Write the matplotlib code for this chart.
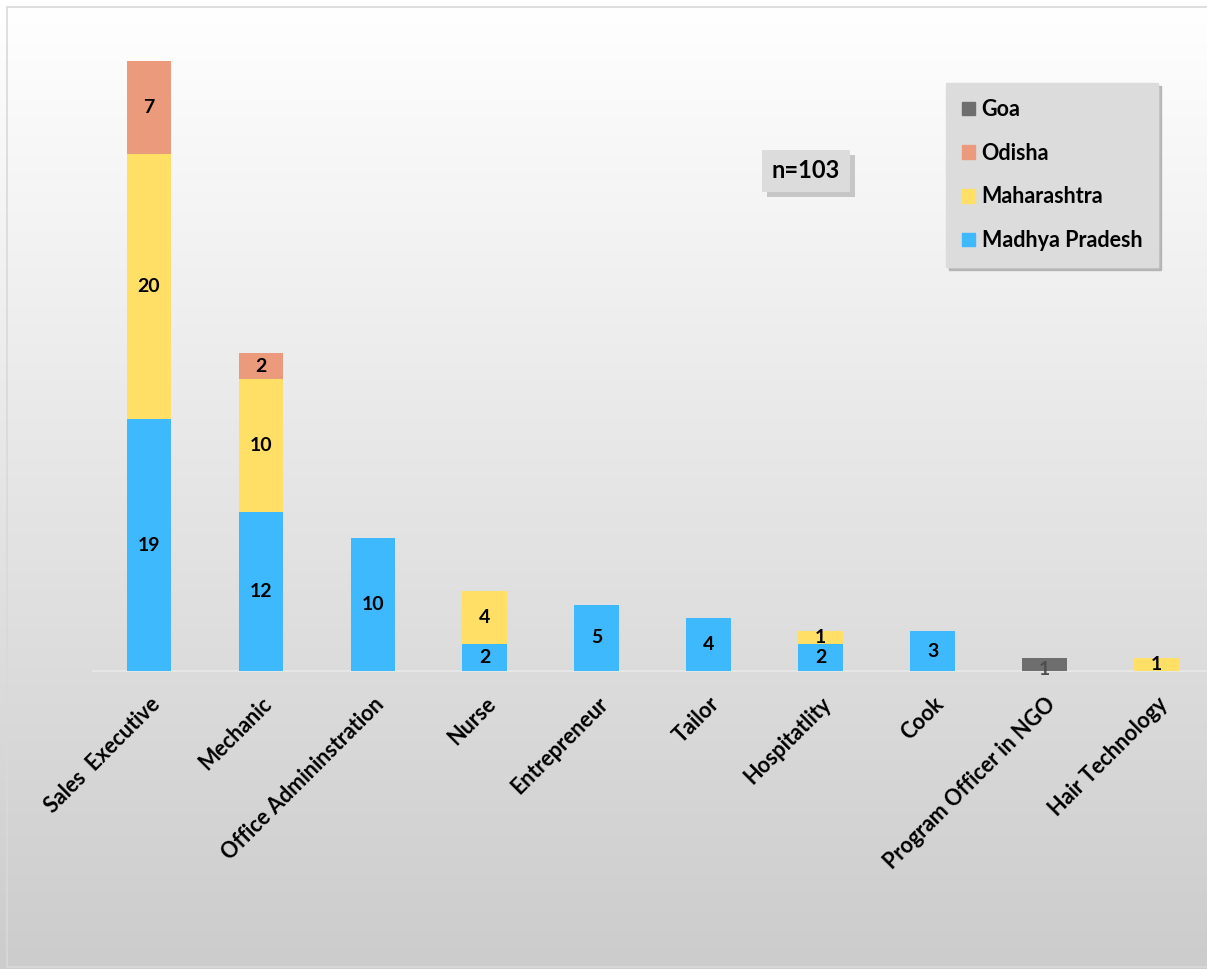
import numpy as np
import matplotlib.pyplot as plt
from matplotlib.patches import Rectangle, Patch

categories = ["Sales  Executive", "Mechanic", "Office Admininstration", "Nurse",
              "Entrepreneur", "Tailor", "Hospitatlity", "Cook",
              "Program Officer in NGO", "Hair Technology"]
madhya = [19, 12, 10, 2, 5, 4, 2, 3, 0, 0]
maharashtra = [20, 10, 0, 4, 0, 0, 1, 0, 0, 1]
odisha = [7, 2, 0, 0, 0, 0, 0, 0, 0, 0]
goa = [0, 0, 0, 0, 0, 0, 0, 0, 1, 0]

c_mp = "#3fb9fd"
c_mh = "#ffdf66"
c_od = "#ec9a7c"
c_goa = "#6e6e6e"

plt.rcParams["font.family"] = ["Lato", "DejaVu Sans"]
plt.rcParams["font.weight"] = "bold"

W, H = 1207, 969
fig = plt.figure(figsize=(W / 100, H / 100), dpi=100)

# gradient background
bg = fig.add_axes([0, 0, 1, 1], zorder=-10)
grad = np.linspace(0, 1, 256).reshape(-1, 1)
shade = 1.0 - 0.2 * grad
img = np.dstack([shade, shade, shade])
bg.imshow(img, aspect="auto", extent=[0, 1, 0, 1], origin="upper")
bg.add_patch(Rectangle((7 / W, 2 / H), 1.0, 1 - 9 / H, fill=False,
                       ec="#d9d9d9", lw=1.2, transform=bg.transAxes))
bg.set_xlim(0, 1)
bg.set_ylim(0, 1)
bg.axis("off")

x = np.arange(len(categories))
base_px = 671
ppu = 13.26
ymax = 48
ax_bottom = (H - base_px) / H
ax_height = ymax * ppu / H
left_px = 93
ax = fig.add_axes([left_px / W, ax_bottom, (W - left_px) / W, ax_height])
ax.patch.set_alpha(0)

mp = np.array(madhya)
mh = np.array(maharashtra)
od = np.array(odisha)
ga = np.array(goa)
bw = 0.4
ax.bar(x, mp, bw, color=c_mp, label="Madhya Pradesh", zorder=3)
ax.bar(x, mh, bw, bottom=mp, color=c_mh, label="Maharashtra", zorder=3)
ax.bar(x, od, bw, bottom=mp + mh, color=c_od, label="Odisha", zorder=3)
ax.bar(x, ga, bw, bottom=mp + mh + od, color=c_goa, label="Goa", zorder=3)

def labels(vals, bottoms, color="black", dy=0.0):
    for xi, v, b in zip(x, vals, bottoms):
        if v > 0:
            ax.text(xi, b + v / 2 + dy, str(v), ha="center", va="center",
                    fontsize=14, fontweight="bold", color=color, zorder=5)

labels(mp, np.zeros(len(x)))
labels(mh, mp)
labels(od, mp + mh)
labels(ga, mp + mh + od, color="#4d4d4d", dy=-0.35)
ax.set_ylim(0, ymax)
ax.set_xlim(-0.5, 9.45)

for s in ["top", "right", "left"]:
    ax.spines[s].set_visible(False)
ax.spines["bottom"].set_color("#e6e6e6")
ax.spines["bottom"].set_linewidth(1.5)
ax.set_yticks([])
ax.set_xticks(x)
ax.set_xticklabels(categories, rotation=45, ha="right", rotation_mode="anchor",
                   fontsize=15.5, fontweight="bold")
ax.tick_params(axis="x", length=0, pad=16)

handles = [Patch(color=c_goa), Patch(color=c_od), Patch(color=c_mh), Patch(color=c_mp)]
names = ["Goa", "Odisha", "Maharashtra", "Madhya Pradesh"]
leg = fig.legend(handles, names, loc="upper left",
                 bbox_to_anchor=(946 / W, 1 - 83 / H), frameon=True,
                 borderaxespad=0, labelspacing=1.05, handlelength=0.6,
                 handleheight=0.6, handletextpad=0.3, borderpad=0.75,
                 fancybox=False, shadow={"color": "#9a9a9a", "alpha": 0.6},
                 prop={"weight": "bold", "size": 15.5})
leg.get_frame().set_facecolor("#dcdcdc")
leg.get_frame().set_edgecolor("#dcdcdc")
leg.get_frame().set_alpha(1)

fig.text(806 / W, 1 - 171 / H, "n=103", ha="center", va="center",
         fontsize=17, fontweight="bold",
         bbox=dict(boxstyle="square,pad=0.4", fc="#dcdcdc", ec="none"))
fig.patches.append(Rectangle(((762 + 5) / W, 1 - (193 + 4) / H), 88 / W, 42 / H,
                             transform=fig.transFigure, fc="#9a9a9a", alpha=0.5,
                             ec="none", zorder=-1))

fig.savefig("out.png", dpi=100)
